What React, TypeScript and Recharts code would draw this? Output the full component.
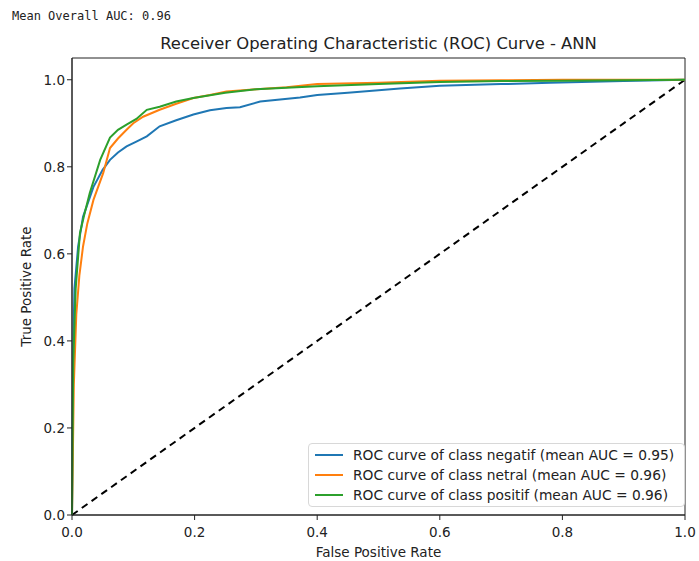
import * as React from 'react';
import { LineChart, Line, XAxis, YAxis, Label, ReferenceArea } from 'recharts';

const fprNeg = [0, 0.002, 0.004, 0.01, 0.018, 0.035, 0.05, 0.062, 0.075, 0.089, 0.105, 0.122, 0.143, 0.17, 0.198, 0.225, 0.252, 0.274, 0.307, 0.372, 0.4, 0.45, 0.535, 0.6, 0.7, 0.78, 0.9, 1.0];
const tprNeg = [0, 0.38, 0.52, 0.617, 0.685, 0.754, 0.793, 0.816, 0.833, 0.847, 0.858, 0.87, 0.893, 0.907, 0.92, 0.93, 0.935, 0.937, 0.95, 0.959, 0.965, 0.97, 0.98, 0.986, 0.99, 0.993, 0.997, 1.0];

const fprNet = [0, 0.003, 0.007, 0.012, 0.018, 0.025, 0.035, 0.051, 0.062, 0.075, 0.089, 0.1, 0.116, 0.143, 0.17, 0.198, 0.225, 0.252, 0.307, 0.35, 0.4, 0.5, 0.6, 0.7, 0.8, 0.9, 1.0];
const tprNet = [0, 0.3, 0.46, 0.55, 0.617, 0.67, 0.724, 0.786, 0.843, 0.865, 0.885, 0.9, 0.915, 0.931, 0.945, 0.958, 0.965, 0.973, 0.979, 0.983, 0.99, 0.993, 0.998, 0.999, 1.0, 1.0, 1.0];

const fprPos = [0, 0.002, 0.006, 0.013, 0.02, 0.029, 0.046, 0.062, 0.075, 0.089, 0.105, 0.122, 0.143, 0.17, 0.198, 0.25, 0.3, 0.4, 0.5, 0.6, 0.7, 0.8, 0.9, 1.0];
const tprPos = [0, 0.35, 0.52, 0.648, 0.69, 0.74, 0.816, 0.867, 0.885, 0.897, 0.91, 0.931, 0.938, 0.95, 0.958, 0.97, 0.978, 0.985, 0.99, 0.995, 0.997, 0.998, 0.999, 1.0];

const ticks = [0, 0.2, 0.4, 0.6, 0.8, 1.0];

const toPts = (xs: number[], ys: number[]) => xs.map((x, i) => ({ x, y: ys[i] }));

const series = [
  { name: 'ROC curve of class negatif (mean AUC = 0.95)', color: '#1f77b4', data: toPts(fprNeg, tprNeg) },
  { name: 'ROC curve of class netral (mean AUC = 0.96)', color: '#ff7f0e', data: toPts(fprNet, tprNet) },
  { name: 'ROC curve of class positif (mean AUC = 0.96)', color: '#2ca02c', data: toPts(fprPos, tprPos) },
];
const diag = [{ x: 0, y: 0 }, { x: 1, y: 1 }];

const font = 'DejaVu Sans, sans-serif';
const axisColor = '#222';
const txt = { fill: '#222', fontSize: 13.5, fontFamily: font };

function LegendBox() {
  return (
    <div style={{
      position: 'absolute', left: 308, top: 443,
      border: '1px solid #d8d8d8', borderRadius: 4, background: 'rgba(255,255,255,0.85)',
      padding: '1px 10px 1px 6px', fontFamily: font, fontSize: 13.8, color: '#222', lineHeight: '20px',
    }}>
      {series.map(s => (
        <div key={s.name} style={{ display: 'flex', alignItems: 'center' }}>
          <span style={{ display: 'inline-block', width: 28, height: 2, background: s.color, marginRight: 10 }} />
          <span>{s.name}</span>
        </div>
      ))}
    </div>
  );
}

export default function App() {
  return (
    <div style={{ position: 'absolute', left: 0, top: 0, width: 699, height: 561, background: '#fff' }}>
      <div style={{ position: 'absolute', left: 12, top: 9, fontFamily: 'DejaVu Sans Mono, monospace', fontSize: 12, color: '#222' }}>
        Mean Overall AUC: 0.96
      </div>
      <div style={{ position: 'absolute', left: 72, width: 613, top: 34, textAlign: 'center', fontFamily: font, fontSize: 16.4, color: '#222' }}>
        Receiver Operating Characteristic (ROC) Curve - ANN
      </div>
      <LineChart width={699} height={561} margin={{ top: 58, right: 14, left: 22, bottom: 16 }}>
        <XAxis
          dataKey="x" type="number" domain={[0, 1]} ticks={ticks} allowDuplicatedCategory={false}
          tickFormatter={(v: number) => v.toFixed(1)} height={30} stroke={axisColor}
          tick={{ ...txt, dy: 5 }} tickSize={5}
        >
          <Label value="False Positive Rate" position="insideBottom" offset={-12} style={txt} />
        </XAxis>
        <YAxis
          type="number" domain={[0, 1.05]} ticks={ticks} tickFormatter={(v: number) => v.toFixed(1)}
          width={50} stroke={axisColor} tick={txt} tickSize={5}
        >
          <Label value="True Positive Rate" angle={-90} position="insideLeft" offset={0} dx={4} style={{ ...txt, textAnchor: 'middle' }} />
        </YAxis>
        <ReferenceArea x1={0} x2={1} y1={0} y2={1.05} fill="none" stroke={axisColor} strokeWidth={1} ifOverflow="visible" />
        <Line data={diag} dataKey="y" stroke="#000" strokeWidth={2} strokeDasharray="7 5" dot={false} isAnimationActive={false} legendType="none" />
        {series.map(s => (
          <Line key={s.name} data={s.data} dataKey="y" name={s.name} stroke={s.color} strokeWidth={2} dot={false} isAnimationActive={false} type="linear" />
        ))}
      </LineChart>
      <LegendBox />
    </div>
  );
}
